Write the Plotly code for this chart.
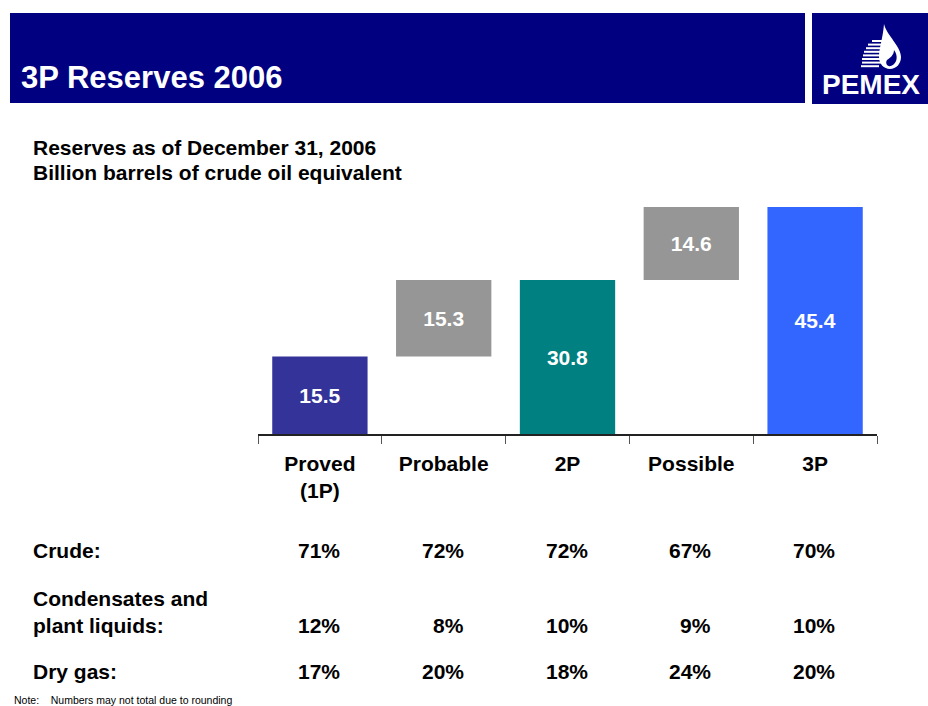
import plotly.graph_objects as go

# ---- data ----
categories = ["Proved<br>(1P)", "Probable", "2P", "Possible", "3P"]
values = [15.5, 15.3, 30.8, 14.6, 45.4]
bases = [0, 15.5, 0, 30.8, 0]
bar_colors = ["#333399", "#969696", "#008080", "#969696", "#3366FF"]
value_labels = ["15.5", "15.3", "30.8", "14.6", "45.4"]

crude = ["71%", "72%", "72%", "67%", "70%"]
condensates = ["12%", "8%", "10%", "9%", "10%"]
dry_gas = ["17%", "20%", "18%", "24%", "20%"]

W, H = 928, 706
L, R, T, B = 258, 877, 184, 434  # plot area pixel box
FONT = "Arial, Liberation Sans, sans-serif"
TXT = 21

def px(x):
    return (x - L) / (R - L)

def py(y):
    return (B - y) / (B - T)

fig = go.Figure()
fig.add_trace(go.Bar(
    x=categories, y=values, base=bases,
    marker=dict(color=bar_colors, line=dict(width=0)),
    width=0.77,
    text=value_labels, textposition="inside", insidetextanchor="middle",
    textfont=dict(family=FONT, size=21, color="white"),
    texttemplate="<b>%{text}</b>",
    hoverinfo="skip",
))

shapes = []
# header band
shapes.append(dict(type="rect", xref="paper", yref="paper",
                   x0=px(10), x1=px(805), y0=py(103), y1=py(13),
                   fillcolor="#000080", line=dict(width=0), layer="below"))
# logo box
shapes.append(dict(type="rect", xref="paper", yref="paper",
                   x0=px(812), x1=px(940), y0=py(104), y1=py(13),
                   fillcolor="#000080", line=dict(width=0), layer="below"))

def path(points):
    s = ""
    for cmd, pts in points:
        s += cmd + " " + " ".join(f"{px(a):.5f},{py(b):.5f}" for a, b in pts) + " "
    return s + "Z"

# drop shape of logo
drop = path([("M", [(884, 24)]),
             ("C", [(887, 36), (901, 46), (901, 57)]),
             ("C", [(901, 64), (896, 69), (890, 69)]),
             ("C", [(884, 69), (879, 64), (879, 57)]),
             ("C", [(879, 48), (883, 38), (884, 24)])])
shapes.append(dict(type="path", xref="paper", yref="paper", path=drop,
                   fillcolor="white", line=dict(width=0)))
# inner dark curve of drop
inner = path([("M", [(894, 50)]),
              ("C", [(898, 55), (898, 63), (891, 66)]),
              ("C", [(887, 67), (885, 63), (887, 60)]),
              ("C", [(890, 58), (894, 55), (894, 50)])])
shapes.append(dict(type="path", xref="paper", yref="paper", path=inner,
                   fillcolor="#000080", line=dict(width=0)))
# eagle stripes
for i, (x0, x1) in enumerate([(872, 882), (868, 883), (866, 884), (864, 884),
                               (863, 884), (862, 883), (862, 881), (861, 879)]):
    y = 41 + i * 3.6
    shapes.append(dict(type="line", xref="paper", yref="paper",
                       x0=px(x0), x1=px(x1), y0=py(y), y1=py(y),
                       line=dict(color="white", width=2)))

annotations = []

def ann(x, y, text, size, color="black", xanchor="left", bold=True, **kw):
    annotations.append(dict(
        xref="paper", yref="paper", x=px(x), y=py(y),
        text=f"<b>{text}</b>" if bold else text,
        showarrow=False, xanchor=xanchor, yanchor="middle",
        font=dict(family=FONT, size=size, color=color), **kw))

ann(19, 77, "3P Reserves 2006", 31, color="white")
ann(820, 84, "PEMEX", 28, color="white")
ann(31, 147, "Reserves as of December 31, 2006", TXT)
ann(31, 172, "Billion barrels of crude oil equivalent", TXT)

ann(31, 550, "Crude:", TXT)
ann(31, 598, "Condensates and", TXT)
ann(31, 625, "plant liquids:", TXT)
ann(31, 671, "Dry gas:", TXT)

for row, yy in [(crude, 550), (condensates, 625), (dry_gas, 671)]:
    for cat, val in zip(categories, row):
        annotations.append(dict(
            xref="x", yref="paper", x=cat, y=py(yy), xshift=22,
            text=f"<b>{val}</b>", showarrow=False,
            xanchor="right", yanchor="middle",
            font=dict(family=FONT, size=TXT, color="black")))

ann(12, 700, "Note:    Numbers may not total due to rounding", 10.5, bold=False)

fig.update_layout(
    width=W, height=H,
    margin=dict(l=L, r=W - R, t=T, b=H - B, pad=0),
    paper_bgcolor="white", plot_bgcolor="white",
    showlegend=False,
    shapes=shapes,
    annotations=annotations,
    font=dict(family=FONT),
    xaxis=dict(
        type="category", tickson="boundaries",
        ticks="outside", ticklen=8, tickcolor="#555555", tickwidth=1,
        showline=True, linecolor="#222222", linewidth=1.5,
        showgrid=False, zeroline=False,
        tickvals=categories,
        ticktext=[f"<b>{c}</b>" for c in categories],
        tickfont=dict(family=FONT, size=TXT, color="black"),
        ticklabelstandoff=10,
        fixedrange=True,
    ),
    yaxis=dict(range=[0, 50], visible=False, showgrid=False, zeroline=False,
               fixedrange=True),
)

fig.write_html("out.html")
